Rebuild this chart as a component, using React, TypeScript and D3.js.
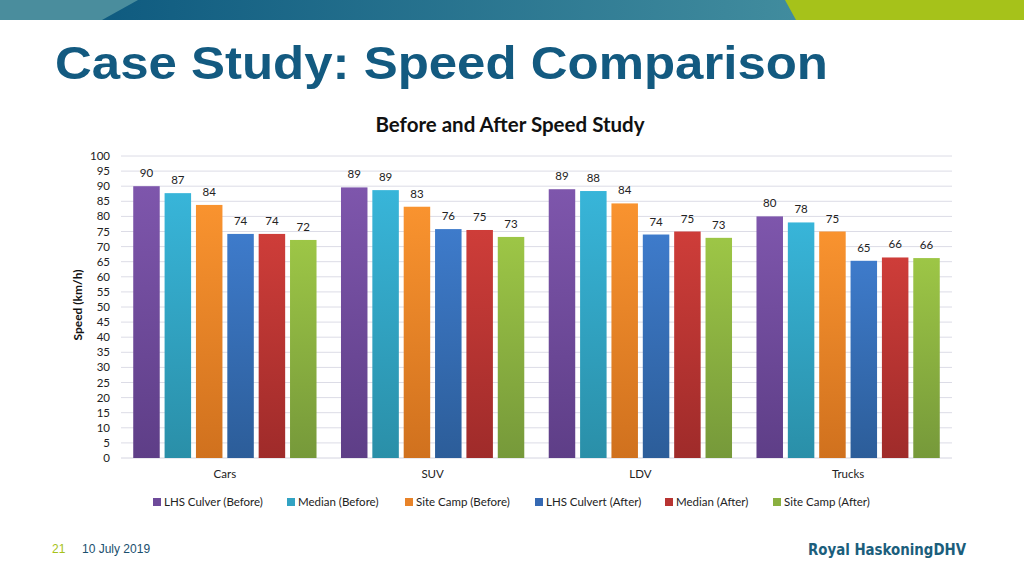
import React from "react";
import * as d3 from "d3";

const categories = ["Cars", "SUV", "LDV", "Trucks"];
const seriesNames = [
  "LHS Culver (Before)",
  "Median (Before)",
  "Site Camp (Before)",
  "LHS Culvert (After)",
  "Median (After)",
  "Site Camp (After)",
];
const lhsCulverBefore = [90, 89.6, 89, 80];
const medianBefore = [87.7, 88.7, 88.4, 78];
const siteCampBefore = [83.8, 83.2, 84.3, 75];
const lhsCulvertAfter = [74.2, 75.8, 74, 65.3];
const medianAfter = [74.2, 75.5, 75, 66.4];
const siteCampAfter = [72.2, 73.2, 72.9, 66.2];
const labels = [
  [90, 87, 84, 74, 74, 72],
  [89, 89, 83, 76, 75, 73],
  [89, 88, 84, 74, 75, 73],
  [80, 78, 75, 65, 66, 66],
];
const yTicks = d3.range(0, 101, 5);

const seriesValues = [lhsCulverBefore, medianBefore, siteCampBefore, lhsCulvertAfter, medianAfter, siteCampAfter];

const colorsTop = ["#7E56AC", "#38B5D9", "#F9932F", "#3E7BCB", "#CE3D39", "#9DC646"];
const colorsBot = ["#5E3E87", "#2A8FA8", "#D0711E", "#2C5D99", "#9F2B2A", "#76993A"];
const legendColors = ["#6E4A9A", "#32A3C3", "#E88329", "#3569B3", "#B83432", "#8AB040"];

const FONT = "Lato, 'Open Sans', sans-serif";

export default function App() {
  const W = 1024, H = 576;
  const left = 121, right = 952, top = 156, bottom = 458;
  const y = d3.scaleLinear().domain([0, 100]).range([bottom, top]);
  const x0 = d3.scaleBand<string>().domain(categories).range([left, right]).paddingInner(0).paddingOuter(0);
  const x1 = d3.scaleBand<number>().domain(d3.range(6)).range([0, x0.bandwidth()]).paddingInner(0.155).paddingOuter(0.39);

  const legendX = [153, 287, 405, 535, 665, 773];

  return (
    <svg width={W} height={H} style={{ display: "block", position: "absolute", left: 0, top: 0 }}>
      <defs>
        <linearGradient id="banner" x1="0" x2="1" y1="0" y2="0">
          <stop offset="0" stopColor="#0F5B80" />
          <stop offset="1" stopColor="#418C9E" />
        </linearGradient>
        {colorsTop.map((c, i) => (
          <linearGradient key={i} id={`g${i}`} x1="0" x2="0" y1="0" y2="1">
            <stop offset="0" stopColor={c} />
            <stop offset="1" stopColor={colorsBot[i]} />
          </linearGradient>
        ))}
      </defs>
      <rect x={0} y={0} width={W} height={H} fill="#fff" />
      {/* banner */}
      <rect x={0} y={0} width={W} height={20} fill="#4A8D9D" />
      <polygon points={`138,0 786,0 796,20 102,20`} fill="url(#banner)" />
      <polygon points={`785,0 ${W},0 ${W},20 796,20`} fill="#A6C21A" />

      <text x={55} y={79} fontFamily="'Liberation Sans', Arial, sans-serif" fontWeight="bold" fontSize={47} fill="#135A80" textLength={773} lengthAdjust="spacingAndGlyphs">
        Case Study: Speed Comparison
      </text>

      <text x={510} y={132} textAnchor="middle" fontFamily={FONT} fontWeight="bold" fontSize={20.5} fill="#111">
        Before and After Speed Study
      </text>

      {/* gridlines */}
      {yTicks.map((t) => (
        <g key={t}>
          <line x1={left} x2={right} y1={y(t)} y2={y(t)} stroke={t === 0 ? "#D4D4E0" : "#DCDCE6"} strokeWidth={1} />
          <text x={110} y={y(t)} dy="0.35em" textAnchor="end" fontFamily={FONT} fontSize={11.5} fill="#222">
            {t}
          </text>
        </g>
      ))}

      <text transform={`translate(82,305) rotate(-90)`} textAnchor="middle" fontFamily={FONT} fontWeight="bold" fontSize={12} fill="#111">
        Speed (km/h)
      </text>

      {categories.map((c, ci) => (
        <g key={c} transform={`translate(${x0(c)},0)`}>
          {seriesValues.map((vals, si) => {
            const v = vals[ci];
            const bx = x1(si)!;
            return (
              <g key={si}>
                <rect x={bx} y={y(v)} width={x1.bandwidth()} height={bottom - y(v)} fill={`url(#g${si})`} />
                <text x={bx + x1.bandwidth() / 2} y={y(v) - 13} dy="0.35em" textAnchor="middle" fontFamily={FONT} fontSize={11.5} fill="#222">
                  {labels[ci][si]}
                </text>
              </g>
            );
          })}
          <text x={x0.bandwidth() / 2} y={474} dy="0.35em" textAnchor="middle" fontFamily={FONT} fontSize={11.5} fill="#222">
            {c}
          </text>
        </g>
      ))}

      {seriesNames.map((n, i) => (
        <g key={n} transform={`translate(${legendX[i]},502)`}>
          <rect x={0} y={-4} width={8} height={8} fill={legendColors[i]} />
          <text x={11} y={0} dy="0.35em" fontFamily={FONT} fontSize={11.5} fill="#222">
            {n}
          </text>
        </g>
      ))}

      <text x={52} y={553} fontFamily="'Liberation Sans', Arial, sans-serif" fontSize={12} fill="#A6C21A">21</text>
      <text x={82} y={553} fontFamily="'Liberation Sans', Arial, sans-serif" fontSize={12} fill="#1A4F6E">10 July 2019</text>
      <text x={808} y={555} fontFamily="'DejaVu Sans Condensed', 'Liberation Sans Narrow', sans-serif" fontWeight="bold" fontSize={15} fill="#1B5E7C" textLength={158} lengthAdjust="spacingAndGlyphs">
        Royal HaskoningDHV
      </text>
    </svg>
  );
}
